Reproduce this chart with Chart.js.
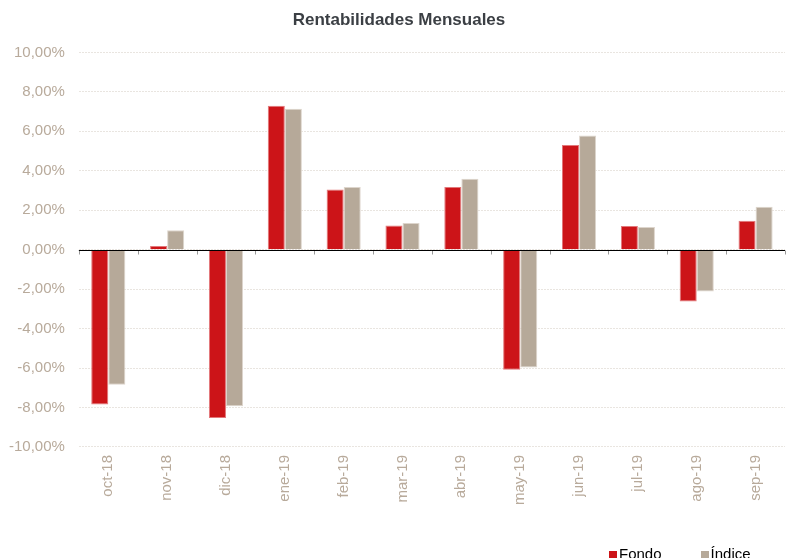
<!DOCTYPE html>
<html>
<head>
<meta charset="utf-8">
<script src="https://cdn.jsdelivr.net/npm/chart.js@4"></script>
<style>
  html, body { margin: 0; padding: 0; background: #fff; overflow: hidden; }
  #wrap { position: relative; width: 788px; height: 558px; }
  #legend { position: absolute; left: 609px; top: 545px; font: 15px 'Liberation Sans', Arial, sans-serif; color: #000; white-space: nowrap; }
  #legend span.item { display: inline-block; }
  #legend i { display: inline-block; width: 8px; height: 8px; margin-right: 2px; vertical-align: 0px; }
</style>
</head>
<body>
<div id="wrap">
  <canvas id="barChart" width="788" height="558"></canvas>
  <div id="legend"></div>
</div>
<script>
const months = ['oct-18', 'nov-18', 'dic-18', 'ene-19', 'feb-19', 'mar-19', 'abr-19', 'may-19', 'jun-19', 'jul-19', 'ago-19', 'sep-19'];
const fondo = [-7.85, 0.19, -8.53, 7.29, 3.05, 1.22, 3.18, -6.09, 5.31, 1.20, -2.62, 1.47];
const indice = [-6.84, 0.98, -7.94, 7.14, 3.18, 1.35, 3.60, -5.97, 5.79, 1.15, -2.12, 2.18];
const seriesNames = ['Fondo', 'Índice'];
const seriesColors = ['#cc1418', '#b6a999'];
const seriesEdges = ['#e2787a', '#ddd5cc'];

const tickColor = '#b8aa9b';
const font = 'Liberation Sans, Arial, sans-serif';

// zero line + small boundary ticks under it
const zeroLine = {
  id: 'zeroLine',
  afterLayout(chart) {
    // title in the original sits a little right of centre
    chart.titleBlock.left += 18;
  },
  afterDatasetsDraw(chart) {
    const { ctx, scales: { x, y }, chartArea } = chart;
    const y0 = Math.round(y.getPixelForValue(0)) + 0.5;
    ctx.save();
    ctx.strokeStyle = '#999';
    ctx.lineWidth = 1;
    const half = (x.getPixelForTick(1) - x.getPixelForTick(0)) / 2;
    for (let i = 0; i <= months.length; i++) {
      const px = Math.round(x.getPixelForTick(0) - half + i * half * 2) + 0.5;
      ctx.beginPath();
      ctx.moveTo(px, y0);
      ctx.lineTo(px, y0 + 4);
      ctx.stroke();
    }
    ctx.strokeStyle = '#000';
    ctx.beginPath();
    ctx.moveTo(chartArea.left, y0);
    ctx.lineTo(chartArea.right, y0);
    ctx.stroke();
    ctx.restore();
  }
};

const ctx = document.getElementById('barChart').getContext('2d');

window.barChart = new Chart(ctx, {
  type: 'bar',
  data: {
    labels: months,
    datasets: [
      {
        label: seriesNames[0],
        data: fondo,
        backgroundColor: seriesColors[0],
        borderColor: seriesEdges[0],
        borderWidth: 1
      },
      {
        label: seriesNames[1],
        data: indice,
        backgroundColor: seriesColors[1],
        borderColor: seriesEdges[1],
        borderWidth: 1
      }
    ]
  },
  options: {
    responsive: false,
    animation: false,
    layout: { padding: { left: -5, right: 3, top: 0, bottom: 53 } },
    datasets: { bar: { categoryPercentage: 0.58, barPercentage: 1 } },
    plugins: {
      legend: { display: false },
      tooltip: { enabled: false },
      title: {
        display: true,
        text: 'Rentabilidades Mensuales',
        color: '#3b3f44',
        font: { family: font, size: 17, weight: 'bold' },
        padding: { top: 10, bottom: 22 }
      }
    },
    scales: {
      x: {
        grid: { display: false },
        border: { display: false },
        ticks: {
          color: tickColor,
          font: { family: font, size: 15 },
          minRotation: 90,
          maxRotation: 90,
          padding: 0
        }
      },
      y: {
        min: -10,
        max: 10,
        grid: {
          color: '#e9e5e0',
          drawTicks: false
        },
        border: { display: false, dash: [2, 1] },
        ticks: {
          stepSize: 2,
          color: tickColor,
          padding: 14,
          font: { family: font, size: 15 },
          callback: v => v.toFixed(2).replace('.', ',') + '%'
        }
      }
    }
  },
  plugins: [zeroLine]
});

const legendEl = document.getElementById('legend');
seriesNames.forEach((name, i) => {
  const item = document.createElement('span');
  item.className = 'item';
  item.style.marginRight = i === 0 ? '39px' : '0';
  item.innerHTML = '<i style="background:' + seriesColors[i] + '"></i>' + name;
  legendEl.appendChild(item);
});
</script>
</body>
</html>
